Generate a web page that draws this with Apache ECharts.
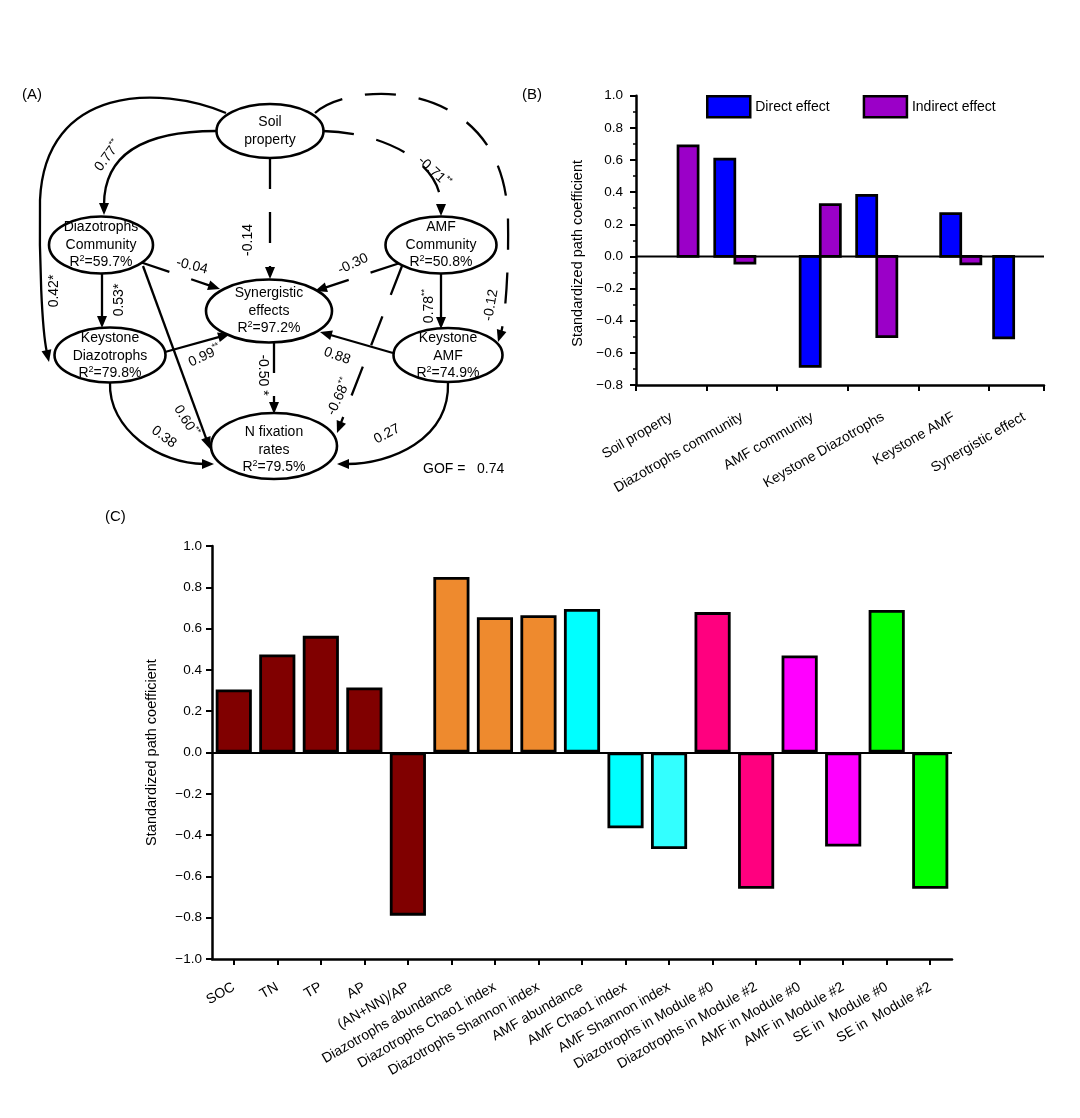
<!DOCTYPE html>
<html><head><meta charset="utf-8">
<script src="https://cdn.jsdelivr.net/npm/echarts/dist/echarts.min.js"></script>
<style>html,body{margin:0;padding:0;background:#fff}#c{width:1080px;height:1118px}</style>
</head><body><div id="c"></div><script>
const FONT = 'Liberation Sans, Arial, Helvetica, sans-serif';

// ===== Panel A: structural equation model =====
const nodeNames = ['Soil property','Diazotrophs Community','AMF Community','Synergistic effects','Keystone Diazotrophs','Keystone AMF','N fixation rates'];
const nodeTextLines = [['Soil','property'],['Diazotrophs','Community'],['AMF','Community'],['Synergistic','effects'],['Keystone','Diazotrophs'],['Keystone','AMF'],['N fixation','rates']];
const nodeR2 = [null,'59.7%','50.8%','97.2%','79.8%','74.9%','79.5%'];
const edgeFrom = [0,0,0,0,0,1,2,1,1,4,4,5,2,2,5,3];
const edgeTo   = [1,4,2,5,3,3,3,4,6,3,6,3,6,5,6,6];
const edgeCoef = [0.77,0.42,-0.71,-0.12,-0.14,-0.04,-0.30,0.53,0.60,0.99,0.38,0.88,-0.68,0.78,0.27,-0.50];
const edgeSig  = ['**','*','**','','','','','*','**','**','','','**','**','','*'];
const gofValue = 0.74;

// ===== Panel B: effects =====
const effectCategories = ['Soil property','Diazotrophs community','AMF community','Keystone Diazotrophs','Keystone AMF','Synergistic effect'];
const directEffect   = [null, 0.605, -0.684, 0.38, 0.266, -0.507];
const indirectEffect = [0.688, -0.042, 0.322, -0.499, -0.046, null];

// ===== Panel C: factors =====
const factorNames = ['SOC','TN','TP','AP','(AN+NN)/AP','Diazotrophs abundance','Diazotrophs Chao1 index','Diazotrophs Shannon index','AMF abundance','AMF Chao1 index','AMF Shannon index','Diazotrophs in Module #0','Diazotrophs in Module #2','AMF in Module #0','AMF in Module #2','SE in  Module #0','SE in  Module #2'];
const factorCoef = [0.305, 0.475, 0.565, 0.315, -0.79, 0.85, 0.655, 0.665, 0.695, -0.367, -0.467, 0.68, -0.66, 0.47, -0.455, 0.69, -0.66];

// ===== layout / style (not data) =====
const nodeCenter = [[270,131],[101,245],[441,245],[269,311],[110,355],[448,355],[274,446]];
const nodeSize = [[107,54],[104,57],[111,57],[126,63],[111,55],[109,54],[126,66]];
const nodeTextDy = [0,0,0,0,1,1,4];
const edgeShape = [
  [[[216,131],[165,131],[104,142],[104,215]]],
  [[[226,113],[160,85],[45,85],[40,200]], [[40,200],[39,260],[42,330],[49,362]]],
  [[[323,131],[380,132],[441,160],[441,216]]],
  [[[315,113],[350,80],[505,75],[508,220]], [[508,220],[509,270],[505,320],[498,342]]],
  [[[270,158],[270,279]]],
  [[[140,262],[220,289]]],
  [[[400,263],[315,291]]],
  [[[102,273],[102,328]]],
  [[[143,266],[210,449]]],
  [[[165,352],[230,334]]],
  [[[110,382],[108,430],[160,464],[214,464]]],
  [[[393,353],[320,332]]],
  [[[402,266],[337,433]]],
  [[[441,273],[441,329]]],
  [[[448,382],[450,440],[390,464],[337,464]]],
  [[[274,342],[274,414]]]
];
const labelPos = [[108,156],[54,291],[434,172],[491,305],[248,240],[192,266],[353,264],[119,300],[186,421],[205,356],[164,437],[337,356],[339,397],[429,306],[387,434],[263,375]];
const labelRot = [53,90,-43,80,90,-14,25,90,-58,25,-37,-20,65,90,28,-90];
const gofPos = [423,469];
const pairCenterB = [0.595, 1.40, 2.61, 3.41, 4.60, 5.35];
const barUnitB = 0.285;
const factorColors = ['#800000','#800000','#800000','#800000','#800000','#EE8A2E','#EE8A2E','#EE8A2E','#00FFFF','#00FFFF','#33FFFF','#FF007F','#FF007F','#FF00FF','#FF00FF','#00FF00','#00FF00'];

function fmtTick(v){ if (Math.abs(v) < 1e-9) return '0.0'; return (v<0?'\u2212':'') + Math.abs(v).toFixed(1); }

const richA = {
  t:{fontSize:14, fontFamily:FONT, fill:'#000', color:'#000', lineHeight:17.5},
  s:{fontSize:9, fontFamily:FONT, fill:'#000', color:'#000', verticalAlign:'top', lineHeight:17.5}
};

function renderNode(params, api){
  const i = params.dataIndex;
  const c = api.coord([api.value(0), api.value(1)]);
  const s = api.size([nodeSize[i][0], nodeSize[i][1]]);
  let txt = nodeTextLines[i].map(l => '{t|' + l + '}').join('\n');
  if (nodeR2[i]) txt += '\n{t|R}{s|2}{t|=' + nodeR2[i] + '}';
  return {type:'group', children:[
    {type:'ellipse', shape:{cx:c[0], cy:c[1], rx:s[0]/2, ry:s[1]/2}, style:{fill:'#fff', stroke:'#000', lineWidth:2.6}},
    {type:'text', x:c[0], y:c[1] + nodeTextDy[i], style:{text:txt, align:'center', verticalAlign:'middle', rich:richA, fontSize:14, fontFamily:FONT, fill:'#000'}}
  ]};
}

function renderEdge(params, api){
  const i = params.dataIndex;
  const P = edgeShape[i].map(seg => seg.map(p => api.coord(p)));
  const last = P[P.length-1];
  const tip = last[last.length-1];
  const prev = last[last.length-2];
  let dx = tip[0]-prev[0], dy = tip[1]-prev[1];
  const L = Math.hypot(dx,dy); dx/=L; dy/=L;
  const AL = 12, AW = 5;
  const base = [tip[0]-dx*AL, tip[1]-dy*AL];
  const end = [tip[0]-dx*(AL-2), tip[1]-dy*(AL-2)];
  let d = 'M' + P[0][0][0] + ' ' + P[0][0][1];
  P.forEach((seg, k) => {
    const isLast = k === P.length-1;
    const e = isLast ? end : seg[seg.length-1];
    if (seg.length === 2) d += ' L' + e[0] + ' ' + e[1];
    else d += ' C' + seg[1][0] + ' ' + seg[1][1] + ' ' + seg[2][0] + ' ' + seg[2][1] + ' ' + e[0] + ' ' + e[1];
  });
  const dashed = edgeCoef[i] < 0;
  return {type:'group', children:[
    {type:'path', shape:{pathData:d}, style:{fill:null, stroke:'#000', lineWidth:2.3, lineDash: dashed ? [31,23] : null}},
    {type:'polygon', shape:{points:[tip, [base[0]-dy*AW, base[1]+dx*AW], [base[0]+dy*AW, base[1]-dx*AW]]}, style:{fill:'#000', stroke:null}}
  ]};
}

function renderEdgeLabel(params, api){
  const i = params.dataIndex;
  const c = api.coord([api.value(0), api.value(1)]);
  const coef = edgeCoef[i].toFixed(2);
  const sig = edgeSig[i];
  let txt = '{t|' + coef + '}';
  if (sig === '**') txt += '{s|**}';
  else if (sig === '*') txt += (i === 15 ? '{t| *}' : '{t|*}');
  return {type:'text', x:c[0], y:c[1], rotation: labelRot[i]*Math.PI/180,
    style:{text:txt, align:'center', verticalAlign:'middle', rich:richA, fontSize:14, fontFamily:FONT, fill:'#000'}};
}

function renderGof(params, api){
  const c = api.coord([api.value(0), api.value(1)]);
  return {type:'text', x:c[0], y:c[1], style:{text:'GOF =   ' + gofValue.toFixed(2), align:'left', verticalAlign:'middle', fontSize:14, fontFamily:FONT, fill:'#000'}};
}

function renderEffectBar(side, color){
  return function(params, api){
    const i = api.value(0), v = api.value(1);
    const cx = pairCenterB[i];
    const x0 = side < 0 ? cx - barUnitB : cx;
    const p1 = api.coord([x0, v]);
    const p2 = api.coord([x0 + barUnitB, 0]);
    return {type:'rect', shape:{x:Math.min(p1[0],p2[0]), y:Math.min(p1[1],p2[1]), width:Math.abs(p2[0]-p1[0]), height:Math.abs(p2[1]-p1[1])},
      style:{fill:color, stroke:'#000', lineWidth:2.7}};
  };
}

const BLUE = '#0000FF', PURPLE = '#9B00C8';
const bMax = 408/70.6;

const axisLineBlack = {show:true, onZero:false, lineStyle:{color:'#000', width:2.5}};
const titleStyle = {fontSize:15, fontWeight:'normal', color:'#000', fontFamily:FONT};

const option = {
  animation:false,
  backgroundColor:'#fff',
  textStyle:{fontFamily:FONT, color:'#000'},
  title:[
    {text:'(A)', left:22, top:87, padding:0, textStyle:titleStyle},
    {text:'(B)', left:522, top:87, padding:0, textStyle:titleStyle},
    {text:'(C)', left:105, top:509, padding:0, textStyle:titleStyle}
  ],
  legend:{
    left:706, top:95, padding:0, itemWidth:43, itemHeight:21, itemGap:33,
    textStyle:{fontSize:14, color:'#000', fontFamily:FONT},
    data:[
      {name:'Direct effect', icon:'rect', itemStyle:{color:BLUE, borderColor:'#000', borderWidth:2.5}},
      {name:'Indirect effect', icon:'rect', itemStyle:{color:PURPLE, borderColor:'#000', borderWidth:2.5}}
    ]
  },
  grid:[
    {left:0, top:0, width:540, height:500, containLabel:false, outerBoundsMode:'none'},
    {left:636, top:95.7, width:408, height:289.3, containLabel:false, outerBoundsMode:'none'},
    {left:636, top:95.7, width:423.6, height:289.3, containLabel:false, outerBoundsMode:'none'},
    {left:212, top:546, width:740, height:413, containLabel:false, outerBoundsMode:'none'}
  ],
  xAxis:[
    {gridIndex:0, type:'value', min:0, max:540, show:false},
    {gridIndex:1, type:'value', min:0, max:bMax, interval:1, position:'bottom',
      axisLine:axisLineBlack, axisTick:{show:true, inside:false, length:6, lineStyle:{color:'#000', width:2}},
      axisLabel:{show:false}, splitLine:{show:false}},
    {gridIndex:2, type:'category', data:effectCategories, position:'bottom',
      axisLine:{show:false}, axisTick:{show:false}, splitLine:{show:false},
      axisLabel:{show:true, interval:0, rotate:30, margin:31, fontSize:14, color:'#000', fontFamily:FONT}},
    {gridIndex:3, type:'category', data:factorNames, position:'bottom',
      axisLine:axisLineBlack, axisTick:{show:true, alignWithLabel:true, inside:false, length:6, lineStyle:{color:'#000', width:2}},
      axisLabel:{show:true, interval:0, rotate:30, margin:27, fontSize:14, color:'#000', fontFamily:FONT}, splitLine:{show:false}}
  ],
  yAxis:[
    {gridIndex:0, type:'value', min:0, max:500, inverse:true, show:false},
    {gridIndex:1, type:'value', min:-0.8, max:1.0, interval:0.2,
      name:'Standardized path coefficient', nameLocation:'middle', nameGap:51, nameRotate:90,
      nameTextStyle:{fontSize:14.5, color:'#000', fontFamily:FONT, padding:[0,26,0,0]},
      axisLine:axisLineBlack, axisTick:{show:true, inside:false, length:6, lineStyle:{color:'#000', width:2}},
      minorTick:{show:true, splitNumber:2, length:3, lineStyle:{color:'#000', width:1.5}},
      axisLabel:{show:true, margin:13, fontSize:13.5, color:'#000', fontFamily:FONT, formatter:fmtTick},
      splitLine:{show:false}, minorSplitLine:{show:false}},
    {gridIndex:2, type:'value', min:0, max:1, show:false},
    {gridIndex:3, type:'value', min:-1, max:1, interval:0.2,
      name:'Standardized path coefficient', nameLocation:'middle', nameGap:53, nameRotate:90,
      nameTextStyle:{fontSize:14.5, color:'#000', fontFamily:FONT},
      axisLine:axisLineBlack, axisTick:{show:true, inside:false, length:6, lineStyle:{color:'#000', width:2}},
      axisLabel:{show:true, margin:10, fontSize:13.5, color:'#000', fontFamily:FONT, formatter:fmtTick},
      splitLine:{show:false}}
  ],
  series:[
    {type:'custom', name:'paths', xAxisIndex:0, yAxisIndex:0, z:2, silent:true,
      data:edgeCoef.map((v,i)=>[i, v]), renderItem:renderEdge},
    {type:'custom', name:'nodes', xAxisIndex:0, yAxisIndex:0, z:3, silent:true,
      data:nodeNames.map((n,i)=>({name:n, value:[nodeCenter[i][0], nodeCenter[i][1]]})), renderItem:renderNode},
    {type:'custom', name:'coefLabels', xAxisIndex:0, yAxisIndex:0, z:4, silent:true,
      data:labelPos.map(p=>[p[0], p[1]]), renderItem:renderEdgeLabel},
    {type:'custom', name:'gof', xAxisIndex:0, yAxisIndex:0, z:4, silent:true,
      data:[[gofPos[0], gofPos[1]]], renderItem:renderGof},
    {type:'custom', name:'Direct effect', xAxisIndex:1, yAxisIndex:1, z:3, color:BLUE,
      itemStyle:{color:BLUE, borderColor:'#000', borderWidth:2.5},
      data:directEffect.map((v,i)=> v==null ? null : [i, v]).filter(d=>d), renderItem:renderEffectBar(-1, BLUE)},
    {type:'custom', name:'Indirect effect', xAxisIndex:1, yAxisIndex:1, z:3, color:PURPLE,
      itemStyle:{color:PURPLE, borderColor:'#000', borderWidth:2.5},
      data:indirectEffect.map((v,i)=> v==null ? null : [i, v]).filter(d=>d), renderItem:renderEffectBar(1, PURPLE)},
    {type:'line', name:'zeroB', xAxisIndex:1, yAxisIndex:1, z:4, silent:true, symbol:'none',
      lineStyle:{color:'#000', width:2}, data:[[0,0],[bMax,0]]},
    {type:'scatter', name:'labelsB', xAxisIndex:2, yAxisIndex:2, data:[], silent:true},
    {type:'bar', name:'factors', xAxisIndex:3, yAxisIndex:3, barCategoryGap:'17%',
      itemStyle:{borderColor:'#000', borderWidth:2.8},
      data:factorCoef.map((v,i)=>({value:v, itemStyle:{color:factorColors[i]}})),
      markLine:{silent:true, symbol:['none','none'], label:{show:false}, lineStyle:{color:'#000', width:2, type:'solid'}, data:[{yAxis:0}]}}
  ]
};

const chart = echarts.init(document.getElementById('c'), null, {renderer:'canvas'});
chart.setOption(option);
</script></body></html>
